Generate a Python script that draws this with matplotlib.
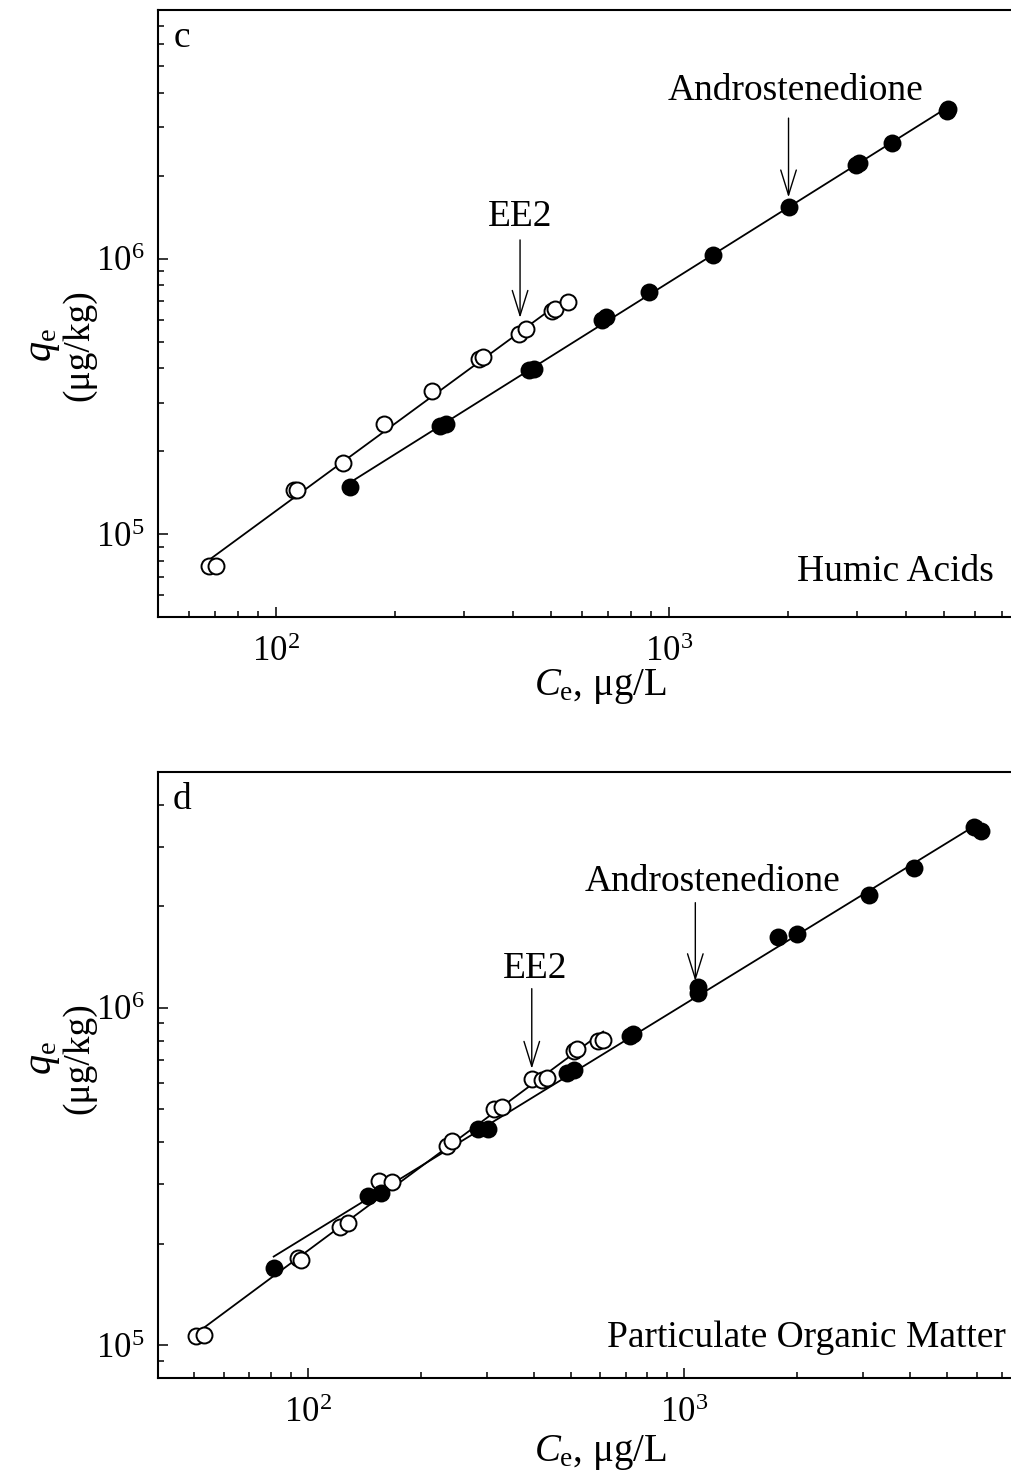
import numpy as np
import matplotlib
matplotlib.use("Agg")
import matplotlib.pyplot as plt
from matplotlib.ticker import LogLocator, NullFormatter, LogFormatterSciNotation

plt.rcParams['font.family'] = ['Liberation Serif', 'DejaVu Serif']
plt.rcParams['mathtext.fontset'] = 'custom'
plt.rcParams['mathtext.rm'] = 'Liberation Serif'
plt.rcParams['mathtext.it'] = 'Liberation Serif:italic'

# ---- Panel c: Humic Acids ----
ha_ee2_ce = [67.4, 70.1, 110.9, 112.6, 148, 188, 249.6, 327, 336, 414, 432, 503, 513, 552]
ha_ee2_qe = [7.67e4, 7.67e4, 1.449e5, 1.449e5, 1.815e5, 2.51e5, 3.30e5, 4.33e5, 4.40e5,
             5.33e5, 5.56e5, 6.44e5, 6.55e5, 6.95e5]
ha_and_ce = [153.9, 260.6, 269.5, 438.6, 451.6, 673, 690, 889, 1289, 2010, 2986, 3042,
             3681, 5080, 5130]
ha_and_qe = [1.48e5, 2.46e5, 2.51e5, 3.95e5, 3.99e5, 5.98e5, 6.13e5, 7.60e5, 1.033e6,
             1.54e6, 2.19e6, 2.23e6, 2.64e6, 3.45e6, 3.50e6]

# ---- Panel d: Particulate Organic Matter ----
pom_ee2_ce = [50.5, 52.9, 94.1, 96.0, 122.2, 128.3, 155, 167.6, 234.6, 241.8, 313.3, 328,
              394.6, 420.7, 432.6, 511, 521, 592, 610]
pom_ee2_qe = [1.065e5, 1.074e5, 1.818e5, 1.795e5, 2.24e5, 2.30e5, 3.06e5, 3.04e5, 3.89e5,
              4.03e5, 5.01e5, 5.08e5, 6.15e5, 6.12e5, 6.19e5, 7.47e5, 7.56e5, 7.99e5, 8.05e5]
pom_and_ce = [81.2, 144.2, 156.6, 283, 300.8, 488.8, 511, 717.7, 733, 1089, 1089, 1783,
              1995, 3112, 4090, 5918, 6150]
pom_and_qe = [1.697e5, 2.77e5, 2.83e5, 4.37e5, 4.37e5, 6.42e5, 6.53e5, 8.28e5, 8.39e5,
              1.156e6, 1.11e6, 1.62e6, 1.66e6, 2.155e6, 2.59e6, 3.43e6, 3.34e6]

panel_letters = ['c', 'd']
panel_names = ['Humic Acids', 'Particulate Organic Matter']

fig = plt.figure(figsize=(10.11, 14.75), dpi=100)
W, H = 1011.0, 1475.0


def axes_px(x0, y0, x1, y1):
    return fig.add_axes([x0 / W, 1 - y1 / H, (x1 - x0) / W, (y1 - y0) / H])


ax1 = axes_px(158, 10, 1011, 617)
ax2 = axes_px(158, 772, 1011, 1378)

FS_TXT = 27
FS_TICK = 25


def fitline(ax, x, y):
    lx, ly = np.log10(x), np.log10(y)
    b, a = np.polyfit(lx, ly, 1)
    xs = np.array([min(x), max(x)])
    ax.plot(xs, 10 ** (a + b * np.log10(xs)), color='black', lw=1.3, zorder=2)


def style(ax, xlim, ylim):
    ax.set_xscale('log')
    ax.set_yscale('log')
    ax.set_xlim(*xlim)
    ax.set_ylim(*ylim)
    for s in ['left', 'bottom', 'top']:
        ax.spines[s].set_linewidth(1.5)
    ax.spines['right'].set_visible(False)
    ax.xaxis.set_major_locator(LogLocator(base=10))
    ax.yaxis.set_major_locator(LogLocator(base=10))
    ax.xaxis.set_minor_locator(LogLocator(base=10, subs=np.arange(2, 10)))
    ax.yaxis.set_minor_locator(LogLocator(base=10, subs=np.arange(2, 10)))
    ax.xaxis.set_major_formatter(LogFormatterSciNotation())
    ax.yaxis.set_major_formatter(LogFormatterSciNotation())
    ax.xaxis.set_minor_formatter(NullFormatter())
    ax.yaxis.set_minor_formatter(NullFormatter())
    ax.tick_params(which='both', direction='in', top=False, right=False, width=1.1,
                   labelsize=FS_TICK)
    ax.tick_params(which='major', length=7)
    ax.tick_params(which='minor', length=4)
    ax.tick_params(axis='x', pad=14)
    ax.tick_params(axis='y', pad=10)


def points(ax, x, y, filled):
    ax.plot(x, y, linestyle='none', marker='o', markersize=11.5,
            markerfacecolor='black' if filled else 'white',
            markeredgecolor='black', markeredgewidth=1.4, zorder=3)


def arrow(ax, x, ytail, ytip):
    ax.annotate('', xy=(x, ytip), xytext=(x, ytail),
                arrowprops=dict(arrowstyle='->,head_length=0.9,head_width=0.28',
                                mutation_scale=20, lw=1.0, color='black',
                                shrinkA=0, shrinkB=0))


# Panel c
style(ax1, (50, 7400), (5e4, 8e6))
fitline(ax1, ha_ee2_ce, ha_ee2_qe)
fitline(ax1, ha_and_ce, ha_and_qe)
points(ax1, ha_ee2_ce, ha_ee2_qe, False)
points(ax1, ha_and_ce, ha_and_qe, True)
ax1.text(418, 1.42e6, 'EE2', fontsize=FS_TXT, ha='center', va='center')
arrow(ax1, 417, 1.17e6, 6.1e5)
ax1.text(2090, 4.08e6, 'Androstenedione', fontsize=FS_TXT, ha='center', va='center')
arrow(ax1, 2010, 3.24e6, 1.67e6)

# Panel d
style(ax2, (40, 7400), (8e4, 5e6))
fitline(ax2, pom_ee2_ce, pom_ee2_qe)
fitline(ax2, pom_and_ce, pom_and_qe)
points(ax2, pom_ee2_ce, pom_ee2_qe, False)
points(ax2, pom_and_ce, pom_and_qe, True)
ax2.text(403, 1.31e6, 'EE2', fontsize=FS_TXT, ha='center', va='center')
arrow(ax2, 394, 1.14e6, 6.6e5)
ax2.text(1194, 2.37e6, 'Androstenedione', fontsize=FS_TXT, ha='center', va='center')
arrow(ax2, 1072, 2.05e6, 1.2e6)

for ax, letter, name, (qy, xly) in zip([ax1, ax2], panel_letters, panel_names,
                                       [(345, 686), (1058, 1452)]):
    ax.text(0.028, 0.955, letter, transform=ax.transAxes, fontsize=FS_TXT,
            ha='center', va='center')
    ax.text(0.9935 if ax is ax2 else 0.98, 0.075 if ax is ax1 else 0.066, name,
            transform=ax.transAxes, fontsize=FS_TXT, ha='right', va='center')
    fig.text(44 / W, 1 - qy / H, r'$\mathit{q}_{\mathrm{e}}$', fontsize=FS_TXT + 2,
             rotation=90, ha='center', va='center')
    fig.text(79 / W, 1 - qy / H, '(μg/kg)', fontsize=FS_TXT, rotation=90,
             ha='center', va='center')
    fig.text(600 / W, 1 - xly / H, r'$\mathit{C}_{\mathrm{e}}$, μg/L', fontsize=FS_TXT + 1,
             ha='center', va='center')

fig.savefig('out.png', dpi=100)
